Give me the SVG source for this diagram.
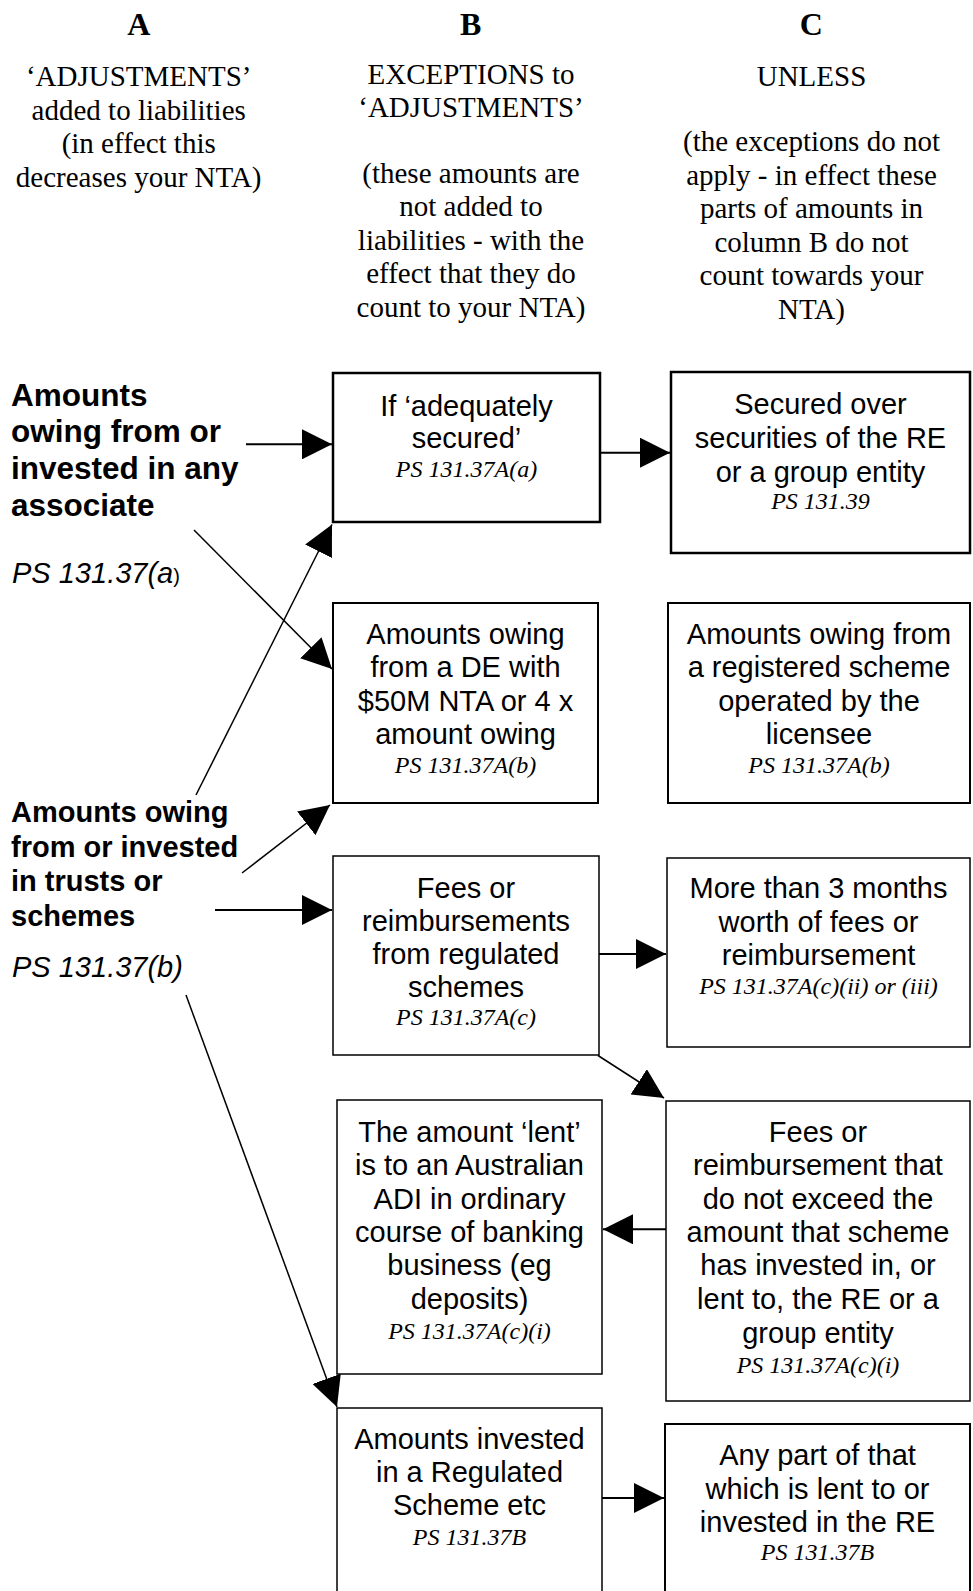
<svg xmlns="http://www.w3.org/2000/svg" width="973" height="1591" viewBox="0 0 973 1591">
<style>
.hd{font-family:"Liberation Serif","Times New Roman",serif;font-size:32px;font-weight:bold;text-anchor:middle;fill:#000}
.ht{font-family:"Liberation Serif","Times New Roman",serif;font-size:29px;text-anchor:middle;fill:#000}
.bx{fill:#fff;stroke:#000}
.t{font-family:"Liberation Sans",Arial,sans-serif;font-size:29px;text-anchor:middle;fill:#000}
.r{font-family:"Liberation Serif","Times New Roman",serif;font-size:24px;font-style:italic;text-anchor:middle;fill:#000}
.lb1{font-family:"Liberation Sans",Arial,sans-serif;font-size:31.5px;font-weight:bold;fill:#000}
.lb2{font-family:"Liberation Sans",Arial,sans-serif;font-size:29px;font-weight:bold;fill:#000}
.li{font-family:"Liberation Sans",Arial,sans-serif;font-size:29px;font-style:italic;fill:#000}
.c{stroke:#000;fill:none;marker-end:url(#ah)}
</style>
<defs>
<marker id="ah" viewBox="0 0 30 30" refX="30" refY="15" markerWidth="30" markerHeight="30" markerUnits="userSpaceOnUse" orient="auto">
<path d="M0,0 L30,15 L0,30 z" fill="#000"/>
</marker>
</defs>
<rect width="973" height="1591" fill="#fff"/>

<g id="header">
<text class="hd" x="138.7" y="34.5">A</text>
<text class="hd" x="470.7" y="34.5">B</text>
<text class="hd" x="811.3" y="34.5">C</text>
<text class="ht" x="138.7" y="86">‘ADJUSTMENTS’</text>
<text class="ht" x="138.7" y="119.5">added to liabilities</text>
<text class="ht" x="138.7" y="153">(in effect this</text>
<text class="ht" x="138.7" y="186.5">decreases your NTA)</text>
<text class="ht" x="471" y="83.5">EXCEPTIONS to</text>
<text class="ht" x="471" y="117">‘ADJUSTMENTS’</text>
<text class="ht" x="471" y="183">(these amounts are</text>
<text class="ht" x="471" y="216">not added to</text>
<text class="ht" x="471" y="249.5">liabilities - with the</text>
<text class="ht" x="471" y="283">effect that they do</text>
<text class="ht" x="471" y="316.5">count to your NTA)</text>
<text class="ht" x="811.5" y="86">UNLESS</text>
<text class="ht" x="811.5" y="151">(the exceptions do not</text>
<text class="ht" x="811.5" y="184.5">apply - in effect these</text>
<text class="ht" x="811.5" y="218">parts of amounts in</text>
<text class="ht" x="811.5" y="251.5">column B do not</text>
<text class="ht" x="811.5" y="285">count towards your</text>
<text class="ht" x="811.5" y="318.5">NTA)</text>
</g>

<g id="a1">
<text class="lb1" x="11" y="405.5">Amounts</text>
<text class="lb1" x="11" y="442">owing from or</text>
<text class="lb1" x="11" y="478.5">invested in any</text>
<text class="lb1" x="11" y="515.5">associate</text>
<text class="li" x="12" y="583">PS 131.37(a<tspan font-size="20" font-style="normal">)</tspan></text>
</g>

<g id="a2">
<text class="lb2" x="11" y="822">Amounts owing</text>
<text class="lb2" x="11" y="856.5">from or invested</text>
<text class="lb2" x="11" y="891">in trusts or</text>
<text class="lb2" x="11" y="926">schemes</text>
<text class="li" x="12" y="977">PS 131.37(b)</text>
</g>

<g id="b1">
<rect class="bx" x="333" y="373" width="267" height="149" stroke-width="2.5"/>
<text class="t" x="466.5" y="416">If ‘adequately</text>
<text class="t" x="466.5" y="448">secured’</text>
<text class="r" x="466.5" y="477">PS 131.37A(a)</text>
</g>

<g id="c1">
<rect class="bx" x="671" y="372" width="299" height="181" stroke-width="2.5"/>
<text class="t" x="820.5" y="413.5">Secured over</text>
<text class="t" x="820.5" y="447.5">securities of the RE</text>
<text class="t" x="820.5" y="481.5">or a group entity</text>
<text class="r" x="820.5" y="509">PS 131.39</text>
</g>

<g id="b2">
<rect class="bx" x="333" y="603" width="265" height="200" stroke-width="2"/>
<text class="t" x="465.5" y="643.5">Amounts owing</text>
<text class="t" x="465.5" y="677">from a DE with</text>
<text class="t" x="465.5" y="710.5">$50M NTA or 4 x</text>
<text class="t" x="465.5" y="743.5">amount owing</text>
<text class="r" x="465.5" y="772.5">PS 131.37A(b)</text>
</g>

<g id="c2">
<rect class="bx" x="668" y="603" width="302" height="200" stroke-width="2"/>
<text class="t" x="819" y="643.5">Amounts owing from</text>
<text class="t" x="819" y="677">a registered scheme</text>
<text class="t" x="819" y="710.5">operated by the</text>
<text class="t" x="819" y="743.5">licensee</text>
<text class="r" x="819" y="772.5">PS 131.37A(b)</text>
</g>

<g id="b3">
<rect class="bx" x="333" y="856" width="266" height="199" stroke-width="1.5"/>
<text class="t" x="466" y="897.5">Fees or</text>
<text class="t" x="466" y="930.5">reimbursements</text>
<text class="t" x="466" y="964">from regulated</text>
<text class="t" x="466" y="997">schemes</text>
<text class="r" x="466" y="1025">PS 131.37A(c)</text>
</g>

<g id="c3">
<rect class="bx" x="667" y="858" width="303" height="189" stroke-width="1.5"/>
<text class="t" x="818.5" y="897.5">More than 3 months</text>
<text class="t" x="818.5" y="931.5">worth of fees or</text>
<text class="t" x="818.5" y="965">reimbursement</text>
<text class="r" x="818.5" y="994">PS 131.37A(c)(ii) or (iii)</text>
</g>

<g id="b4">
<rect class="bx" x="337" y="1100" width="265" height="274" stroke-width="1.5"/>
<text class="t" x="469.5" y="1141.5">The amount ‘lent’</text>
<text class="t" x="469.5" y="1175">is to an Australian</text>
<text class="t" x="469.5" y="1208.5">ADI in ordinary</text>
<text class="t" x="469.5" y="1241.5">course of banking</text>
<text class="t" x="469.5" y="1275">business (eg</text>
<text class="t" x="469.5" y="1309">deposits)</text>
<text class="r" x="469.5" y="1338.5">PS 131.37A(c)(i)</text>
</g>

<g id="c4">
<rect class="bx" x="666" y="1101" width="304" height="300" stroke-width="1.5"/>
<text class="t" x="818" y="1141.5">Fees or</text>
<text class="t" x="818" y="1175">reimbursement that</text>
<text class="t" x="818" y="1208.5">do not exceed the</text>
<text class="t" x="818" y="1241.5">amount that scheme</text>
<text class="t" x="818" y="1275">has invested in, or</text>
<text class="t" x="818" y="1309">lent to, the RE or a</text>
<text class="t" x="818" y="1343">group entity</text>
<text class="r" x="818" y="1372.5">PS 131.37A(c)(i)</text>
</g>

<g id="b5">
<rect class="bx" x="337" y="1408" width="265" height="200" stroke-width="1.5"/>
<text class="t" x="469.5" y="1448.5">Amounts invested</text>
<text class="t" x="469.5" y="1481.5">in a Regulated</text>
<text class="t" x="469.5" y="1515">Scheme etc</text>
<text class="r" x="469.5" y="1545">PS 131.37B</text>
</g>

<g id="c5">
<rect class="bx" x="665" y="1424" width="305" height="190" stroke-width="2"/>
<text class="t" x="817.5" y="1465">Any part of that</text>
<text class="t" x="817.5" y="1498.5">which is lent to or</text>
<text class="t" x="817.5" y="1531.5">invested in the RE</text>
<text class="r" x="817.5" y="1560">PS 131.37B</text>
</g>

<g id="connectors">
<line class="c" x1="246" y1="444.3" x2="332" y2="444.3" stroke-width="2"/>
<line class="c" x1="601" y1="452.7" x2="670" y2="452.7" stroke-width="2"/>
<line class="c" x1="194" y1="530" x2="332" y2="669" stroke-width="1.5"/>
<line class="c" x1="196" y1="795" x2="332" y2="524.5" stroke-width="1.5"/>
<line class="c" x1="242" y1="873" x2="330" y2="805" stroke-width="1.5"/>
<line class="c" x1="215" y1="910" x2="332" y2="910" stroke-width="2"/>
<line class="c" x1="599" y1="954" x2="666" y2="954" stroke-width="2"/>
<line class="c" x1="598" y1="1055.5" x2="664" y2="1098" stroke-width="1.5"/>
<line class="c" x1="666" y1="1229.3" x2="603" y2="1229.3" stroke-width="2"/>
<line class="c" x1="186" y1="995" x2="337" y2="1407" stroke-width="1.5"/>
<line class="c" x1="602" y1="1498" x2="664" y2="1498" stroke-width="2"/>
</g>
</svg>
